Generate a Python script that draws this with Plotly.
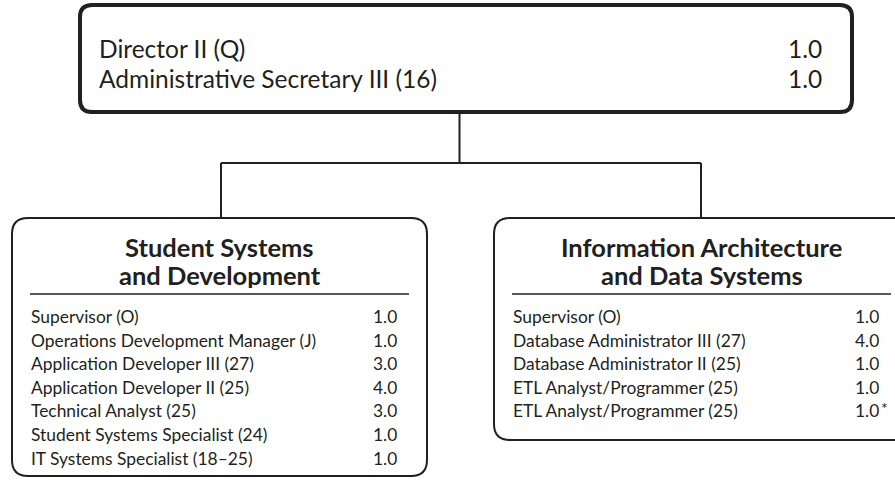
import plotly.graph_objects as go

# ---- data ----
top_titles = ["Director II (Q)", "Administrative Secretary III (16)"]
top_fte = ["1.0", "1.0"]

left_heading = ["Student Systems", "and Development"]
left_titles = [
    "Supervisor (O)",
    "Operations Development Manager (J)",
    "Application Developer III (27)",
    "Application Developer II (25)",
    "Technical Analyst (25)",
    "Student Systems Specialist (24)",
    "IT Systems Specialist (18\u201325)",
]
left_fte = ["1.0", "1.0", "3.0", "4.0", "3.0", "1.0", "1.0"]

right_heading = ["Information Architecture", "and Data Systems"]
right_titles = [
    "Supervisor (O)",
    "Database Administrator III (27)",
    "Database Administrator II (25)",
    "ETL Analyst/Programmer (25)",
    "ETL Analyst/Programmer (25)",
]
right_fte = ["1.0", "4.0", "1.0", "1.0", "1.0*"]

# ---- layout constants ----
W, H = 895, 482
INK = "#231f20"
FONT = "Lato, sans-serif"

fig = go.Figure()
fig.add_trace(go.Scatter(x=[0, W], y=[0, H], mode="markers",
                         marker=dict(opacity=0), hoverinfo="skip", showlegend=False))


def rrect(x0, y0, x1, y1, r):
    return (f"M {x0+r},{y0} L {x1-r},{y0} Q {x1},{y0} {x1},{y0+r} "
            f"L {x1},{y1-r} Q {x1},{y1} {x1-r},{y1} L {x0+r},{y1} "
            f"Q {x0},{y1} {x0},{y1-r} L {x0},{y0+r} Q {x0},{y0} {x0+r},{y0} Z")


def label(x, y, text, size, anchor, box_h, bold=False):
    return dict(x=x, y=y, text=f"<b>{text}</b>" if bold else text, showarrow=False,
                xanchor=anchor, yanchor="middle", height=box_h, borderpad=0,
                valign="middle", font=dict(family=FONT, size=size, color=INK))


shapes = []
annotations = []

# top box
shapes.append(dict(type="path", path=rrect(80, 5, 852, 112, 12),
                   line=dict(color=INK, width=4), xref="x", yref="y"))
# connectors
for (xa, ya, xb, yb) in [(459.5, 112, 459.5, 163), (221, 163, 701, 163),
                         (221, 163, 221, 218), (701, 163, 701, 218)]:
    shapes.append(dict(type="line", x0=xa, y0=ya, x1=xb, y1=yb,
                       line=dict(color=INK, width=2), xref="x", yref="y"))

boxes = [
    dict(x0=12, x1=427, y0=218, y1=476, heading=left_heading,
         titles=left_titles, fte=left_fte),
    dict(x0=494, x1=909, y0=218, y1=440, heading=right_heading,
         titles=right_titles, fte=right_fte),
]

ROW = 17.4
for b in boxes:
    shapes.append(dict(type="path", path=rrect(b["x0"], b["y0"], b["x1"], b["y1"], 16),
                       line=dict(color=INK, width=2), xref="x", yref="y"))
    shapes.append(dict(type="line", x0=b["x0"] + 18, x1=b["x1"] - 18, y0=294, y1=294,
                       line=dict(color=INK, width=1.5), xref="x", yref="y"))
    cx = (b["x0"] + b["x1"]) / 2
    for i, h in enumerate(b["heading"]):
        annotations.append(label(cx, 246 + 28 * i, h, 25.5, "center", 27, bold=True))
    for i, (t, v) in enumerate(zip(b["titles"], b["fte"])):
        y = 316 + 23.6 * i
        annotations.append(label(b["x0"] + 18, y, t, ROW, "left", 22))
        annotations.append(label(b["x1"] - 29, y, v.rstrip("*"), ROW, "right", 22))
        if v.endswith("*"):
            annotations.append(label(b["x1"] - 29.5, y - 3, "*", 16, "left", 14))

for i, (t, v) in enumerate(zip(top_titles, top_fte)):
    y = 48.5 + 30 * i
    annotations.append(label(98, y, t, 24.5, "left", 29))
    annotations.append(label(823, y, v, 24.5, "right", 29))

fig.update_layout(
    width=W, height=H,
    margin=dict(l=0, r=0, t=0, b=0),
    paper_bgcolor="white", plot_bgcolor="white",
    xaxis=dict(range=[0, W], visible=False, fixedrange=True),
    yaxis=dict(range=[H, 0], visible=False, fixedrange=True),
    shapes=shapes, annotations=annotations,
    showlegend=False,
)

fig.write_html("out.html", config={"displayModeBar": False},
               post_script="document.body.style.margin='0';document.body.style.overflow='hidden';")
